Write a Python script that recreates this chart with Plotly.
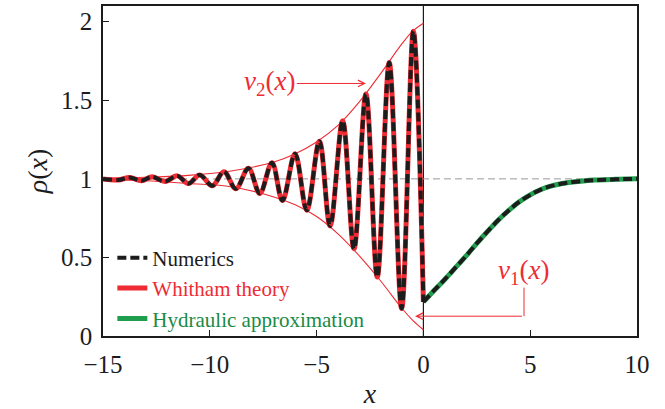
import plotly.graph_objects as go

# ---- data ----
# dispersive-shock region (x < 0): extrema of the modulated wave
wave_x = [-15.0, -14.29, -13.75, -13.2, -12.69, -12.1, -11.52, -11.0, -10.47, -9.88,
          -9.34, -8.78, -8.19, -7.66, -7.09, -6.60, -6.01, -5.46, -4.87, -4.37,
          -3.78, -3.25, -2.69, -2.16, -1.60, -1.02, -0.47, 0.0]
wave_y = [1.0, 0.993, 1.008, 0.988, 1.013, 0.983, 1.019, 0.970, 1.025, 0.956,
          1.046, 0.937, 1.068, 0.907, 1.103, 0.862, 1.16, 0.80, 1.24, 0.70,
          1.37, 0.555, 1.54, 0.375, 1.74, 0.175, 1.94, 0.217]

# smooth rarefaction region (x > 0)
rise_x = [0.0, 0.5, 1.0, 1.5, 2.0, 2.5, 3.0, 3.5, 4.0, 4.5, 5.0, 5.5, 6.0, 6.5, 7.0,
          7.5, 8.0, 8.5, 9.0, 9.5, 10.0]
rise_y = [0.217, 0.29, 0.36, 0.435, 0.51, 0.59, 0.665, 0.737, 0.80, 0.855, 0.898, 0.932,
          0.955, 0.970, 0.980, 0.987, 0.992, 0.995, 0.997, 0.999, 1.0]

# Whitham envelopes
env_x = [-15.0, -13.0, -11.0, -9.0, -7.0, -6.0, -5.0, -4.0, -3.0, -2.0, -1.0, -0.5, 0.0]
nu2_y = [1.003, 1.01, 1.022, 1.05, 1.107, 1.16, 1.235, 1.34, 1.49, 1.67, 1.86, 1.94, 1.99]
nu1_y = [0.997, 0.988, 0.97, 0.95, 0.885, 0.835, 0.76, 0.65, 0.51, 0.35, 0.175, 0.10, 0.04]

x_ticks = [-15, -10, -5, 0, 5, 10]
y_ticks = [0, 0.5, 1, 1.5, 2]
y_tick_text = ["0", "0.5", "1", "1.5", "2"]

RED = "#ee2b33"
GREEN = "#1f9e4d"
GREEN_TXT = "#1a8a45"
BLACK = "#1c1c1c"
FONT = "Liberation Serif"

fig = go.Figure()

# envelopes
for ey in (nu2_y, nu1_y):
    fig.add_trace(go.Scatter(x=env_x, y=ey, mode="lines", line=dict(color=RED, width=1.1, shape="spline"),
                             showlegend=False, hoverinfo="skip"))

# Whitham theory
fig.add_trace(go.Scatter(x=wave_x, y=wave_y, mode="lines",
                         line=dict(color=RED, width=5, shape="spline", smoothing=1.0),
                         name=f"<span style='color:{RED}'>Whitham theory</span>",
                         legendrank=2, legendgroup="w"))
# Hydraulic approximation
fig.add_trace(go.Scatter(x=rise_x, y=rise_y, mode="lines",
                         line=dict(color=GREEN, width=5, shape="spline"),
                         name=f"<span style='color:{GREEN_TXT}'>Hydraulic approximation</span>",
                         legendrank=3, legendgroup="h"))
# Numerics
fig.add_trace(go.Scatter(x=wave_x, y=wave_y, mode="lines",
                         line=dict(color=BLACK, width=4, dash="9px,4px", shape="spline", smoothing=1.0),
                         name=f"<span style='color:{BLACK}'>Numerics</span>",
                         legendrank=1, legendgroup="n"))
fig.add_trace(go.Scatter(x=rise_x, y=rise_y, mode="lines",
                         line=dict(color=BLACK, width=4, dash="9px,4px", shape="spline"),
                         showlegend=False, legendgroup="n"))

# reference lines
fig.add_shape(type="line", xref="x", yref="y", x0=-15, x1=10, y0=1, y1=1,
              line=dict(color="#9a9a9a", width=1, dash="7px,4px"), layer="below")
fig.add_shape(type="line", xref="x", yref="paper", x0=0, x1=0, y0=0, y1=1,
              line=dict(color=BLACK, width=1.2), layer="below")

# nu_2 label with arrow
fig.add_annotation(x=-2.69, y=1.607, ax=-7.19, ay=1.607, xref="x", yref="y", axref="x", ayref="y",
                   text="<i>ν</i><sub>2</sub>(<i>x</i>)", showarrow=True, arrowhead=5, arrowsize=1.3,
                   arrowwidth=1, arrowcolor=RED, font=dict(family=FONT, size=27, color=RED))
# nu_1 label with angled connector
fig.add_annotation(x=4.69, y=0.405, xref="x", yref="y", text="<i>ν</i><sub>1</sub>(<i>x</i>)",
                   showarrow=False, font=dict(family=FONT, size=27, color=RED))
fig.add_shape(type="line", xref="x", yref="y", x0=4.71, x1=4.71, y0=0.308, y1=0.126,
              line=dict(color=RED, width=1))
fig.add_annotation(x=-0.39, y=0.126, ax=4.71, ay=0.126, xref="x", yref="y", axref="x", ayref="y",
                   text=" ", showarrow=True, arrowhead=5, arrowsize=1.3, arrowwidth=1, arrowcolor=RED,
                   font=dict(size=2))

fig.update_layout(
    width=665, height=409,
    margin=dict(l=103, r=28, t=6, b=73),
    paper_bgcolor="white", plot_bgcolor="white",
    font=dict(family=FONT, size=25, color=BLACK),
    showlegend=True,
    legend=dict(x=0.0175, y=0.298, xanchor="left", yanchor="top", bgcolor="rgba(0,0,0,0)",
                font=dict(family=FONT, size=21), traceorder="normal", itemwidth=30,
                tracegroupgap=0),
)
fig.update_xaxes(range=[-15, 10], tickvals=x_ticks, ticks="inside", ticklen=6, tickwidth=1.2,
                 tickcolor=BLACK, showline=True, linecolor=BLACK, linewidth=1.5, mirror=True,
                 showgrid=False, zeroline=False, ticklabelstandoff=5, automargin=False,
                 title=dict(text="<i>x</i>", font=dict(size=28), standoff=12))
fig.update_yaxes(range=[0, 2.1], tickvals=y_ticks, ticktext=y_tick_text, ticks="inside", ticklen=6,
                 tickwidth=1.2, tickcolor=BLACK, showline=True, linecolor=BLACK, linewidth=1.5,
                 mirror=True, showgrid=False, zeroline=False, ticklabelstandoff=4, automargin=False,
                 title=dict(text="<i>ρ</i>(<i>x</i>)", font=dict(size=28), standoff=5))

fig.write_html("out.html", config={"displayModeBar": False},
               post_script="document.body.style.margin='0';")
